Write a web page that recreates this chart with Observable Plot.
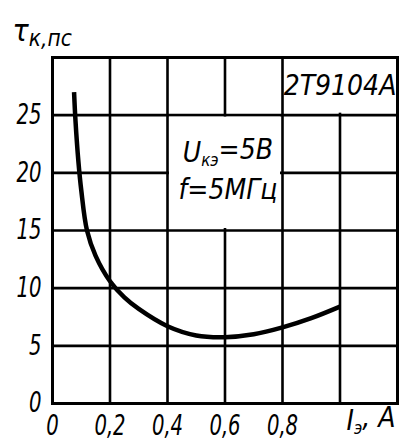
<!DOCTYPE html>
<html><head><meta charset="utf-8">
<script src="https://cdn.jsdelivr.net/npm/d3@7"></script>
<script src="https://cdn.jsdelivr.net/npm/@observablehq/plot@0.6"></script>
<style>
body{margin:0;background:#fff}
svg text{font-family:"Liberation Sans Narrow","DejaVu Sans Condensed",sans-serif;font-style:italic}
</style>
</head><body><div id="chart"></div>
<script>
// Collector time constant vs emitter current, 2T9104A
const current = [0.075, 0.08, 0.09, 0.10, 0.12, 0.15, 0.20, 0.25, 0.30, 0.40, 0.50, 0.60, 0.70, 0.80, 0.90, 1.00];
const tau     = [27.0, 24.5, 21.0, 18.5, 15.0, 12.8, 10.6, 9.2, 8.2, 6.7, 5.9, 5.75, 6.0, 6.6, 7.4, 8.4];
const xTicks = [0, 0.2, 0.4, 0.6, 0.8];
const xGrid = [0.2, 0.4, 0.6, 0.8, 1.0];
const yTicks = [0, 5, 10, 15, 20, 25];
const yGrid = [5, 10, 15, 20, 25];
const deviceName = "2Т9104А";
const conditions = ["Uкэ=5В", "f=5МГц"];
const yTitle = "τк,пс";
const xTitle = "Iэ, A";

const data = current.map((x, i) => ({x, y: tau[i]}));
const boxes = [{x1: 0.4, x2: 0.8, y1: 15, y2: 25}, {x1: 0.8, x2: 1.2, y1: 25, y2: 30}];
const notes = [
  {x: 0.61, y: 21.7, text: conditions[0]},
  {x: 0.61, y: 18.5, text: conditions[1]},
  {x: 1.0, y: 27.5, text: deviceName}
];

const plot = Plot.plot({
  width: 401, height: 446,
  marginLeft: 52, marginRight: 4, marginTop: 57, marginBottom: 43,
  x: {domain: [0, 1.2]},
  y: {domain: [0, 30]},
  style: {background: "#fff", color: "#000"},
  marks: [
    Plot.ruleX(xGrid, {stroke: "#000", strokeWidth: 2.6}),
    Plot.ruleY(yGrid, {stroke: "#000", strokeWidth: 2.6}),
    Plot.rect(boxes, {x1: "x1", x2: "x2", y1: "y1", y2: "y2", fill: "#fff", inset: 2}),
    Plot.frame({stroke: "#000", strokeWidth: 3}),
    Plot.line(data, {x: "x", y: "y", curve: "catmull-rom", stroke: "#000", strokeWidth: 4.5, strokeLinecap: "butt"}),
    Plot.axisY({ticks: yTicks, tickSize: 0, tickPadding: 11, label: null, fontSize: 28,
      tickFormat: d => String(d), className: "narrow"}),
    Plot.axisX({ticks: xTicks, tickSize: 0, tickPadding: 12, label: null, fontSize: 28,
      tickFormat: d => d === 0 ? "0" : d.toFixed(1).replace(".", ","), className: "narrow"}),
    Plot.text(notes, {x: "x", y: "y", text: "text", fontSize: 28, fill: "#000"}),
    Plot.text([yTitle], {frameAnchor: "top-left", dx: -40, dy: -38, textAnchor: "start", fontSize: 30, fill: "#000"}),
    Plot.text([xTitle], {frameAnchor: "bottom-right", dx: -2, dy: 26, textAnchor: "end", fontSize: 28, fill: "#000"})
  ]
});
document.getElementById("chart").append(plot);

// narrow the tick digits like the drafting font of the original
d3.select(plot).selectAll("g[aria-label$='tick label'] text").each(function() {
  const tr = this.getAttribute("transform") || "";
  this.setAttribute("transform", tr + " scale(0.78,1)");
});

// subscripts
d3.select(plot).selectAll("text").each(function() {
  const t = this.textContent;
  const sub = (main, s, rest, subRest) => {
    const el = d3.select(this);
    el.text(null);
    el.append("tspan").text(main);
    el.append("tspan").attr("font-size", subRest ? "0.75em" : "0.6em").attr("dy", "0.25em").text(s + (subRest ? rest : ""));
    if (!subRest) el.append("tspan").attr("dy", "-0.25em").text(rest);
  };
  if (t === conditions[0]) sub("U", "кэ", "=5В");
  else if (t === yTitle) sub("τ", "к", ",пс", true);
  else if (t === xTitle) sub("I", "э", ", A");
});
</script>
</body></html>
